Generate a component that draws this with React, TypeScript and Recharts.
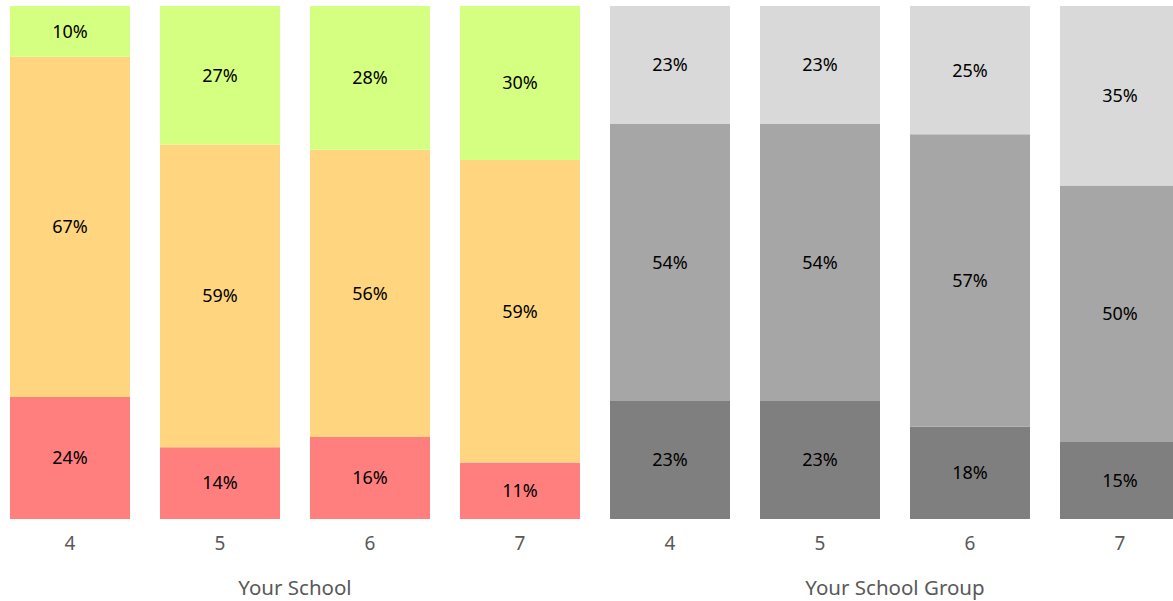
import React from 'react';
import { BarChart, Bar, XAxis, YAxis, Cell, LabelList } from 'recharts';

const categories = ['4', '5', '6', '7', '4', '5', '6', '7'];
const groups = [
  'Your School', 'Your School', 'Your School', 'Your School',
  'Your School Group', 'Your School Group', 'Your School Group', 'Your School Group',
];
const lowValues = [24, 14, 16, 11, 23, 23, 18, 15];
const midValues = [67, 59, 56, 59, 54, 54, 57, 50];
const highValues = [10, 27, 28, 30, 23, 23, 25, 35];

const schoolColors = { low: '#FF7F7F', mid: '#FFD580', high: '#D5FF80' };
const groupColors = { low: '#7F7F7F', mid: '#A6A6A6', high: '#D9D9D9' };

const data = categories.map((cat, i) => ({
  cat,
  group: groups[i],
  low: lowValues[i],
  mid: midValues[i],
  high: highValues[i],
}));

const FONT = '"Noto Sans", sans-serif';

const CatTick = (props: any) => {
  const { x, y, payload } = props;
  return (
    <text x={x} y={y + 31} textAnchor="middle" fill="#595959" fontSize={19} fontFamily={FONT}>
      {payload.value}
    </text>
  );
};

const GroupTick = (props: any) => {
  const { x, y, payload, index } = props;
  if (index !== 1 && index !== 5) return null;
  return (
    <text x={x + 75} y={y + 31} textAnchor="middle" fill="#595959" fontSize={20.5} fontFamily={FONT}>
      {payload.value}
    </text>
  );
};

const pct = (v: any) => `${v}%`;

const keys: Array<'low' | 'mid' | 'high'> = ['low', 'mid', 'high'];

const App: React.FC = () => {
  return (
    <div style={{ position: 'absolute', left: 0, top: 0, width: 1173, height: 601, overflow: 'hidden', background: '#fff' }}>
      <div style={{ position: 'absolute', left: -5, top: 0 }}>
        <BarChart
          width={1200}
          height={601}
          data={data}
          stackOffset="expand"
          barSize={120}
          margin={{ top: 6, right: 0, left: 0, bottom: 0 }}
        >
          <XAxis dataKey="cat" xAxisId={0} height={45} axisLine={false} tickLine={false} tickSize={0} tickMargin={0} tick={<CatTick />} interval={0} />
          <XAxis dataKey="group" xAxisId="group" height={37} axisLine={false} tickLine={false} tickSize={0} tickMargin={0} tick={<GroupTick />} interval={0} allowDuplicatedCategory />
          <YAxis hide domain={[0, 1]} />
          {keys.map((k) => (
            <Bar key={k} dataKey={k} stackId="a" xAxisId={0} isAnimationActive={false}>
              {data.map((_, i) => (
                <Cell key={i} fill={i < 4 ? schoolColors[k] : groupColors[k]} />
              ))}
              <LabelList dataKey={k} position="center" formatter={pct} fill="#000" fontSize={18} fontFamily={FONT} />
            </Bar>
          ))}
        </BarChart>
      </div>
    </div>
  );
};

export default App;
